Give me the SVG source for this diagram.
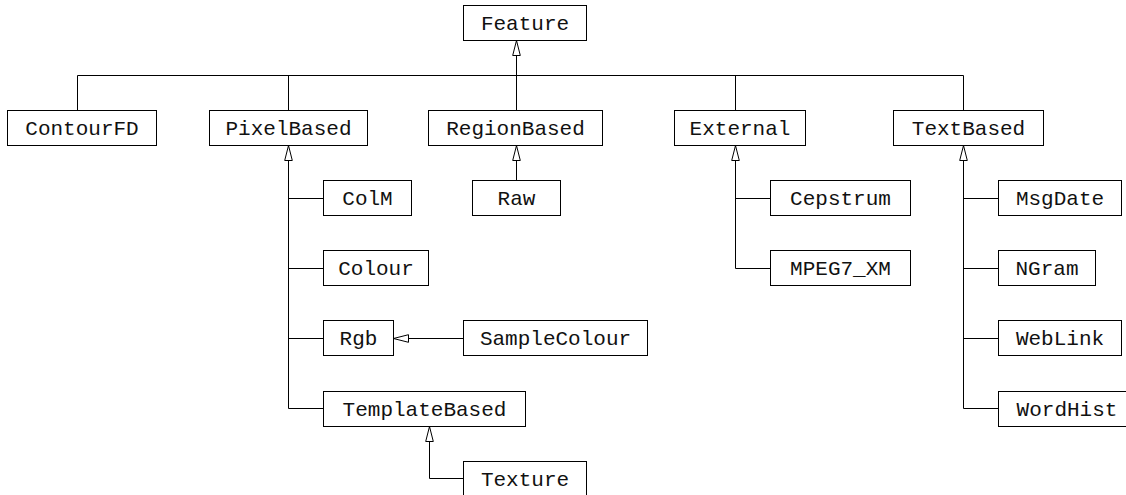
<svg xmlns="http://www.w3.org/2000/svg" width="1126" height="495" viewBox="0 0 1126 495">
  <style>
    .box rect { fill: #fff; stroke: #000; stroke-width: 1; }
    .box text { font-family: "Liberation Mono", "Courier New", monospace; font-size: 21px; fill: #111; text-anchor: middle; }
    .links path { fill: none; stroke: #000; stroke-width: 1; }
    .inh { marker-end: url(#hollow); }
  </style>
  <defs>
    <!-- hollow triangle for generalisation (inheritance) -->
    <marker id="hollow" markerUnits="userSpaceOnUse" markerWidth="20" markerHeight="12" refX="0" refY="0" orient="auto" overflow="visible">
      <path d="M0,0 L-15,-3.8 L-15,3.8 Z" fill="#fff" stroke="#000" stroke-width="1"/>
    </marker>
  </defs>

  <g class="links">
    <!-- bus under Feature -->
    <path d="M77.5,110.5 V75.5 H963.5 V110.5"/>
    <path d="M288.5,75.5 V110.5"/>
    <path d="M735.5,75.5 V110.5"/>
    <path class="inh" d="M516.5,110.5 V40.5"/>
    <!-- RegionBased -->
    <path class="inh" d="M516.5,180.5 V145.5"/>
    <!-- PixelBased subtree -->
    <path class="inh" d="M288.5,408.5 V145.5"/>
    <path d="M288.5,408.5 H323.5"/>
    <path d="M288.5,198.5 H323.5"/>
    <path d="M288.5,268.5 H323.5"/>
    <path d="M288.5,338.5 H323.5"/>
    <path class="inh" d="M463.5,338.5 H393.5"/>
    <path class="inh" d="M463.5,478.5 H429.5 V426.5"/>
    <!-- External subtree -->
    <path class="inh" d="M735.5,268.5 V145.5"/>
    <path d="M735.5,198.5 H770.5"/>
    <path d="M735.5,268.5 H770.5"/>
    <!-- TextBased subtree -->
    <path class="inh" d="M963.5,408.5 V145.5"/>
    <path d="M963.5,198.5 H998.5"/>
    <path d="M963.5,268.5 H998.5"/>
    <path d="M963.5,338.5 H998.5"/>
    <path d="M963.5,408.5 H998.5"/>
  </g>

  <g id="Feature" class="box"><rect x="463.5" y="5.5" width="123" height="35"/><text x="525" y="30">Feature</text></g>
  <g id="ContourFD" class="box"><rect x="7.5" y="110.5" width="149" height="35"/><text x="82" y="135">ContourFD</text></g>
  <g id="PixelBased" class="box"><rect x="209.5" y="110.5" width="158" height="35"/><text x="288.5" y="135">PixelBased</text></g>
  <g id="RegionBased" class="box"><rect x="428.5" y="110.5" width="174" height="35"/><text x="515.5" y="135">RegionBased</text></g>
  <g id="External" class="box"><rect x="674.5" y="110.5" width="131" height="35"/><text x="740" y="135">External</text></g>
  <g id="TextBased" class="box"><rect x="893.5" y="110.5" width="150" height="35"/><text x="968.5" y="135">TextBased</text></g>

  <g id="Raw" class="box"><rect x="472.5" y="180.5" width="88" height="35"/><text x="516.5" y="205">Raw</text></g>

  <g id="ColM" class="box"><rect x="323.5" y="180.5" width="88" height="35"/><text x="367.5" y="205">ColM</text></g>
  <g id="Colour" class="box"><rect x="323.5" y="250.5" width="105" height="35"/><text x="376" y="275">Colour</text></g>
  <g id="Rgb" class="box"><rect x="323.5" y="320.5" width="70" height="35"/><text x="358.5" y="345">Rgb</text></g>
  <g id="SampleColour" class="box"><rect x="463.5" y="320.5" width="184" height="35"/><text x="555.5" y="345">SampleColour</text></g>
  <g id="TemplateBased" class="box"><rect x="323.5" y="391.5" width="202" height="35"/><text x="424.5" y="416">TemplateBased</text></g>
  <g id="Texture" class="box"><rect x="463.5" y="461.5" width="123" height="35"/><text x="525" y="485.5">Texture</text></g>

  <g id="Cepstrum" class="box"><rect x="770.5" y="180.5" width="140" height="35"/><text x="840.5" y="205">Cepstrum</text></g>
  <g id="MPEG7_XM" class="box"><rect x="770.5" y="250.5" width="140" height="35"/><text x="840.5" y="275">MPEG7_XM</text></g>

  <g id="MsgDate" class="box"><rect x="998.5" y="180.5" width="123" height="35"/><text x="1060" y="205">MsgDate</text></g>
  <g id="NGram" class="box"><rect x="998.5" y="250.5" width="97" height="35"/><text x="1047" y="275">NGram</text></g>
  <g id="WebLink" class="box"><rect x="998.5" y="320.5" width="123" height="35"/><text x="1060" y="345">WebLink</text></g>
  <g id="WordHist" class="box"><rect x="998.5" y="391.5" width="137" height="35"/><text x="1067" y="416">WordHist</text></g>
</svg>
